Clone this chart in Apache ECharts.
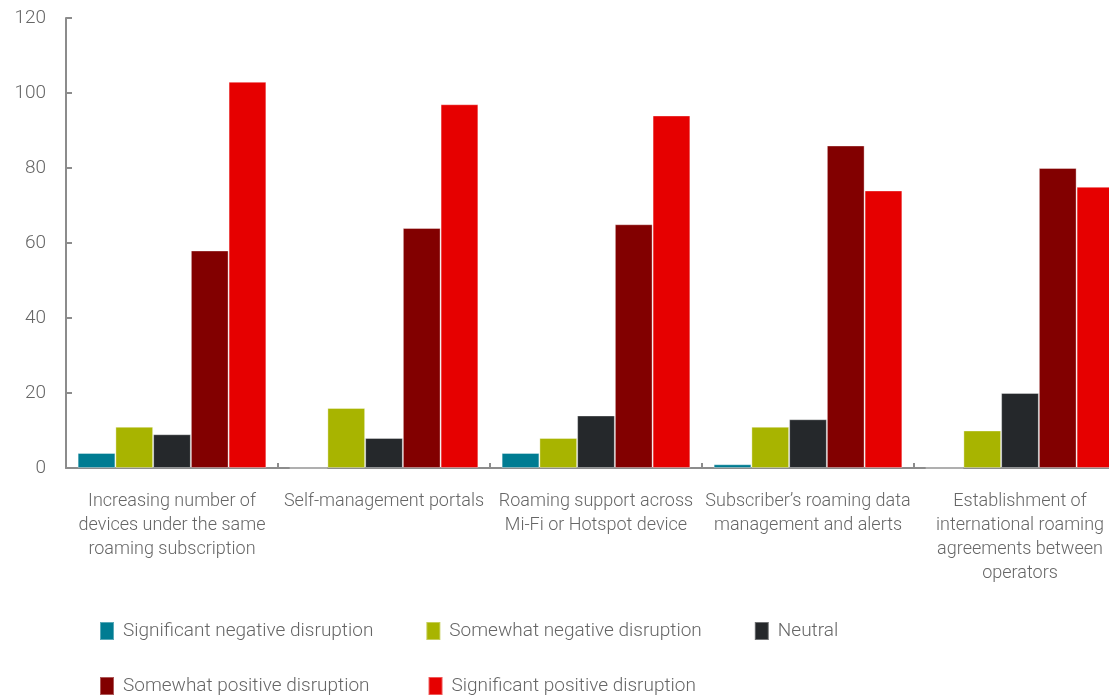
<!DOCTYPE html>
<html>
<head>
<meta charset="utf-8">
<script src="https://cdn.jsdelivr.net/npm/echarts@6/dist/echarts.min.js"></script>
<style>
  html, body { margin: 0; padding: 0; background: #ffffff; overflow: hidden; }
  /* plot runs slightly past the right edge of the page, so the canvas is wider than the view */
  #chart { width: 1126px; height: 696px; }
</style>
</head>
<body>
<div id="chart"></div>
<script>
// Use cases, wrapped onto the lines shown under the axis
const categories = [
  'Increasing number of\ndevices under the same\nroaming subscription',
  'Self-management portals',
  'Roaming support across\nMi-Fi or Hotspot device',
  'Subscriber\u2019s roaming data\nmanagement and alerts',
  'Establishment of\ninternational roaming\nagreements between\noperators'
];

const seriesNames = [
  'Significant negative disruption',
  'Somewhat negative disruption',
  'Neutral',
  'Somewhat positive disruption',
  'Significant positive disruption'
];

const significantNegative = [4, 0, 4, 1, 0];
const somewhatNegative = [11, 16, 8, 11, 10];
const neutral = [9, 8, 14, 13, 20];
const somewhatPositive = [58, 64, 65, 86, 80];
const significantPositive = [103, 97, 94, 74, 75];

const yTicks = [0, 20, 40, 60, 80, 100, 120];

const palette = ['#007C92', '#A8B400', '#25282B', '#820000', '#E60000'];
const values = [significantNegative, somewhatNegative, neutral, somewhatPositive, significantPositive];

const FONT = 'Roboto';
const TEXT = '#666666';
const AXIS = '#8c8c8c';

const chart = echarts.init(document.getElementById('chart'), null, { renderer: 'canvas' });

const legendText = {
  color: TEXT,
  fontFamily: FONT,
  fontWeight: 300,
  fontSize: 19,
  padding: [0, 0, 0, 4]
};

const legendIcon = 'path://M0,0 L14,0 L14,18 L0,18 Z';

chart.setOption({
  animation: false,
  backgroundColor: '#ffffff',
  textStyle: { fontFamily: FONT },
  grid: { left: 66, top: 18, right: 0, height: 450, containLabel: false },
  legend: [
    {
      data: seriesNames.slice(0, 3),
      left: 99, top: 621, padding: 0,
      itemWidth: 14, itemHeight: 18, itemGap: 52,
      icon: legendIcon,
      textStyle: legendText
    },
    {
      data: seriesNames.slice(3),
      left: 99, top: 676, padding: 0,
      itemWidth: 14, itemHeight: 18, itemGap: 58,
      icon: legendIcon,
      textStyle: legendText
    }
  ],
  xAxis: {
    type: 'category',
    data: categories,
    axisLine: { show: true, lineStyle: { color: AXIS, width: 2 } },
    axisTick: { show: true, inside: true, length: 5, lineStyle: { color: AXIS, width: 2 } },
    axisLabel: {
      color: TEXT, fontFamily: FONT, fontWeight: 300, fontSize: 18,
      lineHeight: 24, margin: 21, interval: 0
    }
  },
  yAxis: {
    type: 'value',
    min: 0, max: 120, interval: 20,
    axisLine: { show: true, lineStyle: { color: AXIS, width: 2 } },
    axisTick: { show: true, inside: true, length: 6, lineStyle: { color: AXIS, width: 2 } },
    splitLine: { show: false },
    axisLabel: {
      color: TEXT, fontFamily: FONT, fontWeight: 300, fontSize: 19, margin: 20,
      formatter: v => (yTicks.includes(v) ? String(v) : '')
    }
  },
  series: seriesNames.map((name, i) => ({
    name,
    type: 'bar',
    data: values[i],
    barGap: 0,
    barCategoryGap: '11%',
    itemStyle: {
      color: palette[i],
      borderColor: 'rgba(255,255,255,0.35)',
      borderWidth: 1
    }
  }))
});
</script>
</body>
</html>
